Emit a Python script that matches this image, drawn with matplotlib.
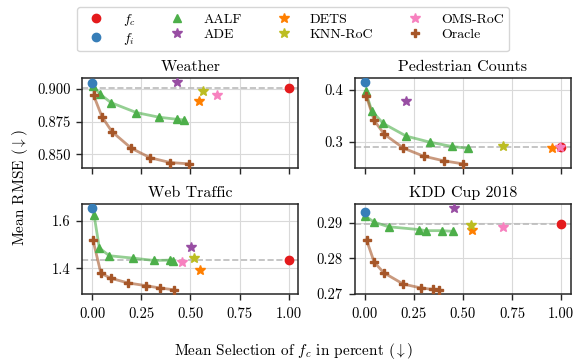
import matplotlib
matplotlib.use("Agg")
import matplotlib.pyplot as plt
from matplotlib.lines import Line2D

plt.rcParams.update({
    "font.family": "serif",
    "font.serif": ["cmr10", "DejaVu Serif"],
    "mathtext.fontset": "cm",
    "axes.formatter.use_mathtext": True,
    "axes.unicode_minus": False,
})

titles = ["Weather", "Pedestrian Counts", "Web Traffic", "KDD Cup 2018"]

# AALF
aalf_x = [
    [0.005, 0.042, 0.096, 0.226, 0.341, 0.434, 0.470],
    [0.005, 0.037, 0.095, 0.212, 0.331, 0.444, 0.526],
    [0.010, 0.037, 0.088, 0.208, 0.316, 0.397, 0.414],
    [0.004, 0.049, 0.122, 0.278, 0.312, 0.393, 0.452],
]
aalf_y = [
    [0.9020, 0.8957, 0.8894, 0.8818, 0.8783, 0.8767, 0.8762],
    [0.398, 0.3594, 0.3355, 0.311, 0.2994, 0.291, 0.2874],
    [1.6255, 1.4851, 1.4525, 1.4425, 1.4326, 1.434, 1.431],
    [0.2919, 0.2902, 0.2889, 0.2881, 0.2878, 0.2878, 0.2876],
]
# Oracle
oracle_x = [
    [0.008, 0.051, 0.101, 0.199, 0.296, 0.397, 0.491],
    [0.009, 0.049, 0.100, 0.198, 0.300, 0.402, 0.500],
    [0.005, 0.045, 0.096, 0.184, 0.275, 0.346, 0.417],
    [0.010, 0.049, 0.098, 0.197, 0.288, 0.348, 0.380],
]
oracle_y = [
    [0.8949, 0.8785, 0.8674, 0.8548, 0.8475, 0.8439, 0.8429],
    [0.3884, 0.3413, 0.3148, 0.2877, 0.2723, 0.2633, 0.2574],
    [1.5177, 1.3787, 1.3574, 1.3376, 1.3262, 1.3163, 1.309],
    [0.2852, 0.2789, 0.2759, 0.2727, 0.2716, 0.2712, 0.2711],
]
# single points (x, y) per dataset
fc_x = [1.0, 1.0, 1.0, 1.0]
fc_y = [0.9002, 0.2897, 1.434, 0.2897]
fi_x = [0.0, 0.0, 0.0, 0.0]
fi_y = [0.9042, 0.4155, 1.6539, 0.29304]
ade_x = [0.431, 0.210, 0.502, 0.454]
ade_y = [0.9050, 0.3787, 1.4894, 0.2942]
dets_x = [0.544, 0.956, 0.551, 0.548]
dets_y = [0.8909, 0.2877, 1.3943, 0.2881]
knn_x = [0.562, 0.703, 0.517, 0.539]
knn_y = [0.8985, 0.2916, 1.441, 0.2893]
oms_x = [0.637, 0.995, 0.458, 0.705]
oms_y = [0.8952, 0.2897, 1.4255, 0.2888]

yticks = [
    [0.850, 0.875, 0.900],
    [0.3, 0.4],
    [1.4, 1.6],
    [0.27, 0.28, 0.29],
]
yfmt = ["{:.3f}", "{:.1f}", "{:.1f}", "{:.2f}"]
xticks = [0.0, 0.25, 0.5, 0.75, 1.0]

C_FC = "#e41a1c"
C_FI = "#377eb8"
C_AALF = "#4daf4a"
C_ADE = "#984ea3"
C_DETS = "#ff7f00"
C_KNN = "#bcbd22"
C_OMS = "#f781bf"
C_OR = "#a65628"

STAR = 7.5

fig, axes = plt.subplots(2, 2, figsize=(5.75, 3.61), dpi=100, sharex=True)
fig.subplots_adjust(left=0.143, right=0.993, top=0.784, bottom=0.186,
                    wspace=0.26, hspace=0.4)

for i, ax in enumerate(axes.flat):
    ax.grid(True, color="#d9d9d9", linewidth=0.8, zorder=0)
    ax.set_axisbelow(True)
    ax.axhline(fc_y[i], color="#bbbbbb", linestyle="--", linewidth=1.2, zorder=1)
    ax.plot(aalf_x[i], aalf_y[i], color=C_AALF, alpha=0.6, linewidth=2, zorder=2)
    ax.plot(aalf_x[i], aalf_y[i], linestyle="none", marker="^", color=C_AALF,
            markersize=6, zorder=3)
    ax.plot(oracle_x[i], oracle_y[i], color=C_OR, alpha=0.6, linewidth=2, zorder=2)
    ax.plot(oracle_x[i], oracle_y[i], linestyle="none", marker="P", color=C_OR,
            markersize=6, zorder=3)
    ax.plot([fi_x[i]], [fi_y[i]], "o", color=C_FI, markersize=6, zorder=4)
    ax.plot([fc_x[i]], [fc_y[i]], "o", color=C_FC, markersize=6, zorder=4)
    ax.plot([ade_x[i]], [ade_y[i]], "*", color=C_ADE, markersize=STAR, zorder=4)
    ax.plot([dets_x[i]], [dets_y[i]], "*", color=C_DETS, markersize=STAR, zorder=4)
    ax.plot([knn_x[i]], [knn_y[i]], "*", color=C_KNN, markersize=STAR, zorder=4)
    ax.plot([oms_x[i]], [oms_y[i]], "*", color=C_OMS, markersize=STAR, zorder=4)
    ax.set_title(titles[i], fontsize=11.5, pad=5)
    ax.set_yticks(yticks[i])
    ax.set_yticklabels([yfmt[i].format(v) for v in yticks[i]], fontsize=10.5)
    ax.set_xticks(xticks)
    ax.set_xticklabels(["{:.2f}".format(v) for v in xticks], fontsize=10.5)
    ax.set_xlim(-0.05, 1.05)
    for s in ax.spines.values():
        s.set_color("#262626")
        s.set_linewidth(1.1)
    ax.tick_params(length=4, width=1.0, color="#262626")
    ax.tick_params(axis="x", pad=5.5)
    ax.tick_params(axis="y", pad=4.5)

fig.text(0.51, 0.0, r"Mean Selection of $f_c$ in percent ($\downarrow$)",
         ha="center", va="bottom", fontsize=11)
fig.text(0.035, 0.48, r"Mean RMSE ($\downarrow$)", rotation=90,
         ha="center", va="center", fontsize=11)

handles = [
    Line2D([], [], linestyle="none", marker="o", color=C_FC, markersize=6),
    Line2D([], [], linestyle="none", marker="o", color=C_FI, markersize=6),
    Line2D([], [], linestyle="none", marker="^", color=C_AALF, markersize=6),
    Line2D([], [], linestyle="none", marker="*", color=C_ADE, markersize=STAR),
    Line2D([], [], linestyle="none", marker="*", color=C_DETS, markersize=STAR),
    Line2D([], [], linestyle="none", marker="*", color=C_KNN, markersize=STAR),
    Line2D([], [], linestyle="none", marker="*", color=C_OMS, markersize=STAR),
    Line2D([], [], linestyle="none", marker="P", color=C_OR, markersize=6),
]
labels = [r"$f_c$", r"$f_i$", "AALF", "ADE", "DETS", "KNN-RoC", "OMS-RoC", "Oracle"]
fig.legend(handles, labels, loc="upper center", bbox_to_anchor=(0.51, 1.0),
           ncol=4, fontsize=10, frameon=True, edgecolor="#cccccc",
           handletextpad=0.9, columnspacing=2.0, labelspacing=0.2,
           borderpad=0.35)

fig.savefig("out.png", dpi=100)
